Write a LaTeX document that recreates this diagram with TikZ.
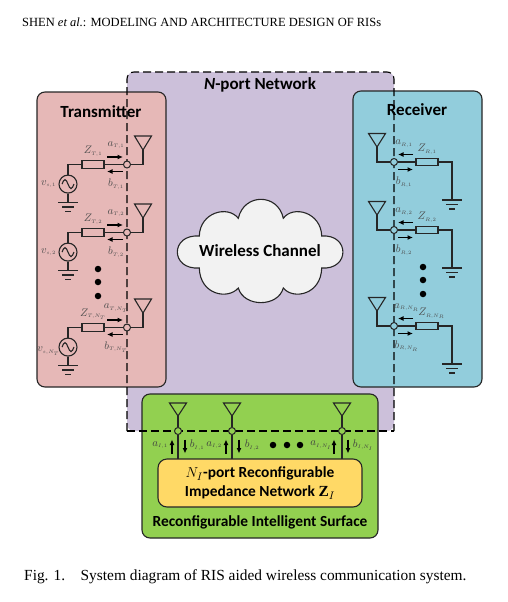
\documentclass[tikz,border=0pt]{standalone}
\usepackage{amsmath}
\usepackage{fontspec}
\setmainfont{Liberation Serif}
\newfontfamily\labelfont{Carlito}
\DeclareMathSizes{11}{11}{7}{5}
\usetikzlibrary{arrows.meta, positioning, calc}
\definecolor{txpink}{HTML}{E6B8B7}
\definecolor{nportpurple}{HTML}{CCC0DA}
\definecolor{rxblue}{HTML}{92CDDC}
\definecolor{risgreen}{HTML}{92D050}
\definecolor{znetyellow}{HTML}{FFD966}
\definecolor{cloudgray}{HTML}{F2F2F2}
\definecolor{linedark}{HTML}{262626}
\begin{document}
\begin{tikzpicture}[
        x=1pt, y=-1pt,
        panel/.style={rectangle, rounded corners=8pt, draw=linedark, line width=1.1pt, inner sep=0pt},
        title/.style={font=\labelfont\bfseries\fontsize{17}{19}\selectfont, text=black, inner sep=0pt},
        subtitle/.style={font=\labelfont\bfseries\fontsize{15.4}{19}\selectfont, text=black, inner sep=0pt},
        wire/.style={draw=linedark, line width=1.1pt},
        portline/.style={draw=black, line width=1.1pt, dash pattern=on 8pt off 4pt},
        port/.style={circle, draw=linedark, line width=1pt, minimum size=7pt, inner sep=0pt},
        imped/.style={rectangle, draw=linedark, line width=1.1pt, minimum width=22pt, minimum height=7.5pt, inner sep=0pt},
        source/.style={circle, draw=linedark, line width=1.1pt, minimum size=18pt, inner sep=0pt},
        wavearrow/.style={-{Latex[length=5.5pt,width=5pt]}, line width=1.1pt, draw=black},
        symb/.style={font=\fontsize{11}{12}\selectfont, text=black!70, inner sep=0pt},
        dotmark/.style={circle, fill=black, minimum size=6.5pt, inner sep=0pt}
    ]
        \useasboundingbox (0,0) rectangle (508,602);
        % page text
        \node[anchor=west, inner sep=0pt, font=\fontsize{12.5}{14}\selectfont] (header) at (22,22) {SHEN \textit{et al.}: MODELING AND ARCHITECTURE DESIGN OF RISs};
        \node[anchor=west, inner sep=0pt, font=\fontsize{15.4}{18}\selectfont] (caption) at (24,577) {Fig. 1.\quad System diagram of RIS aided wireless communication system.};

        % N-port network
        \fill[nportpurple, rounded corners=7pt] (127,431) -- (127,72) -- (394,72) -- (394,431) -- cycle;
        \node[title] (nport) at (260,85) {\textit{N}-port Network};
        \draw[wire, fill=cloudgray] (199.3,236) .. controls (200,212) and (228,205) .. (238.3,218.3)
            .. controls (244,193) and (278,193) .. (283.3,218.3)
            .. controls (293,205) and (321,212) .. (321.7,236)
            .. controls (350,234) and (350,270) .. (321.7,268)
            .. controls (321,295) and (293,300) .. (283.3,288)
            .. controls (278,307.5) and (244,307.5) .. (238.3,288)
            .. controls (228,300) and (200,295) .. (199.3,268)
            .. controls (170,270) and (170,234) .. cycle;
        \node[title] (channel) at (260,251) {Wireless Channel};

        % panels
        \node[panel, fill=txpink, minimum width=129pt, minimum height=295pt] (tx) at (101.5,239.5) {};
        \node[panel, fill=rxblue, minimum width=129pt, minimum height=296pt] (rx) at (417.5,239) {};
        \node[panel, fill=risgreen, minimum width=236pt, minimum height=144pt] (ris) at (260,466) {};
        \node[title] (txtitle) at (101,112) {Transmitter};
        \node[title] (rxtitle) at (417,110) {Receiver};
        \node[subtitle] (ristitle) at (260,522) {Reconfigurable Intelligent Surface};
        \node[panel, fill=znetyellow, rounded corners=9pt, minimum width=204pt, minimum height=48pt, subtitle, align=center] (znet) at (260,483) {$N_I$-port Reconfigurable\\Impedance Network $\mathbf{Z}_I$};

        % port plane
        \draw[portline, rounded corners=7pt] (127,431) -- (127,72) -- (394,72) -- (394,431);
        \draw[portline] (127,431) -- (394,431);

        % transmitter branches
        \foreach \idx/\py/\vy/\tsub/\vsub in {1/164.5/19.6/{T,1}/{s,1}, 2/232.5/19.6/{T,2}/{s,2}, 3/327.5/23.5/{T,N_T}/{s,N_T}} {
            \node[port, fill=txpink] (portT\idx) at (127,\py) {};
            \node[imped, fill=txpink] (resT\idx) at (93,\py) {};
            \node[source] (srcT\idx) at (68,\py+19.6) {};
            \coordinate (antT\idx) at (143,\py-14.5);
            \coordinate (gndT\idx) at (68,\py+38);
            \draw[wire] (antT\idx) -- ++(-8.5,-14) -- ++(17,0) -- cycle;
            \draw[wire] (portT\idx) -| (antT\idx);
            \draw[wire] (portT\idx) -- (resT\idx);
            \draw[wire] (resT\idx) -| (srcT\idx);
            \draw[wire] (srcT\idx) -- (gndT\idx);
            \draw[wire] (gndT\idx) ++(-10,0) -- ++(20,0) ++(-16,4.5) -- ++(12,0) ++(-9,4.5) -- ++(6,0);
            \draw[wire] (srcT\idx) ++(-6,0) sin ++(3,-4.5) cos ++(3,4.5) sin ++(3,4.5) cos ++(3,-4.5);
            \coordinate (aTs\idx) at (107,\py-7.5);
            \coordinate (aTe\idx) at (123,\py-7.5);
            \coordinate (bTs\idx) at (123,\py+7);
            \coordinate (bTe\idx) at (107,\py+7);
            \draw[wavearrow] (aTs\idx) -- (aTe\idx);
            \draw[wavearrow] (bTs\idx) -- (bTe\idx);
            \node[symb] (zT\idx) at (93,\py-13.5) {$Z_{\scriptscriptstyle\tsub}$};
            \node[symb] (aT\idx) at (116,\py-19.5) {$a_{\scriptscriptstyle\tsub}$};
            \node[symb] (bT\idx) at (116,\py+19.5) {$b_{\scriptscriptstyle\tsub}$};
            \node[symb] (vT\idx) at (48.5,\py+\vy) {$v_{\scriptscriptstyle\vsub}$};
        }
        \foreach \idx/\dy in {1/269, 2/282, 3/296}
            \node[dotmark] (dotT\idx) at (98,\dy) {};

        % receiver branches
        \foreach \idx/\py/\ax/\zx/\rsub in {1/162/404/427/{R,1}, 2/230/404/427/{R,2}, 3/326/406.5/431.5/{R,N_R}} {
            \node[port, fill=rxblue] (portR\idx) at (394,\py) {};
            \node[imped, fill=rxblue] (resR\idx) at (427,\py) {};
            \coordinate (antR\idx) at (377,\py-15);
            \coordinate (gndR\idx) at (452,\py+38);
            \draw[wire] (antR\idx) -- ++(-8.5,-13.5) -- ++(17,0) -- cycle;
            \draw[wire] (portR\idx) -| (antR\idx);
            \draw[wire] (portR\idx) -- (resR\idx);
            \draw[wire] (resR\idx) -| (gndR\idx);
            \draw[wire] (gndR\idx) ++(-10,0) -- ++(20,0) ++(-16,4.5) -- ++(12,0) ++(-9,4.5) -- ++(6,0);
            \coordinate (aRs\idx) at (413,\py-7.5);
            \coordinate (aRe\idx) at (398,\py-7.5);
            \coordinate (bRs\idx) at (398,\py+7.5);
            \coordinate (bRe\idx) at (413,\py+7.5);
            \draw[wavearrow] (aRs\idx) -- (aRe\idx);
            \draw[wavearrow] (bRs\idx) -- (bRe\idx);
            \node[symb] (zR\idx) at (\zx,\py-12.5) {$Z_{\scriptscriptstyle\rsub}$};
            \node[symb] (aR\idx) at (\ax,\py-18.5) {$a_{\scriptscriptstyle\rsub}$};
            \node[symb] (bR\idx) at (\ax,\py+20) {$b_{\scriptscriptstyle\rsub}$};
        }
        \foreach \idx/\dy in {1/267, 2/280, 3/294}
            \node[dotmark] (dotR\idx) at (423,\dy) {};

        % RIS branches
        \foreach \idx/\px/\ua/\ub/\la/\lb/\isub in {1/178/172/185/160/197/{I,1}, 2/232/226/239/214/252/{I,2}, 3/342/334/348/321/363/{I,N_I}} {
            \node[port, fill=risgreen] (portI\idx) at (\px,431) {};
            \coordinate (antI\idx) at (\px,416);
            \coordinate (znetI\idx) at (\px,459);
            \draw[wire] (antI\idx) -- ++(-8.5,-13) -- ++(17,0) -- cycle;
            \draw[wire] (antI\idx) -- (portI\idx);
            \draw[wire] (portI\idx) -- (znetI\idx);
            \coordinate (aIs\idx) at (\ua,453.5);
            \coordinate (aIe\idx) at (\ua,439.5);
            \coordinate (bIs\idx) at (\ub,439.5);
            \coordinate (bIe\idx) at (\ub,453.5);
            \draw[wavearrow] (aIs\idx) -- (aIe\idx);
            \draw[wavearrow] (bIs\idx) -- (bIe\idx);
            \node[symb, text=black!75] (aI\idx) at (\la,445) {$a_{\scriptscriptstyle\isub}$};
            \node[symb, text=black!75] (bI\idx) at (\lb,445) {$b_{\scriptscriptstyle\isub}$};
        }
        \foreach \idx/\dx in {1/273, 2/287, 3/300}
            \node[dotmark] (dotI\idx) at (\dx,445) {};
    \end{tikzpicture}
\end{document}
